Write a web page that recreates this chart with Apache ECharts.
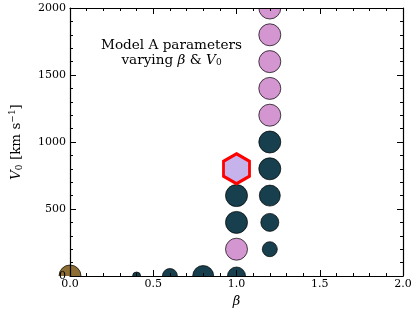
<!DOCTYPE html>
<html><head><meta charset="utf-8">
<script src="https://cdn.jsdelivr.net/npm/echarts@6/dist/echarts.min.js"></script>
<style>html,body{margin:0;padding:0;background:#fff}#c{width:415px;height:314px}</style>
</head><body><div id="c"></div>
<script>
// Data
const xTicks = [0.0, 0.5, 1.0, 1.5, 2.0];
const yTicks = [0, 500, 1000, 1500, 2000];

const brownBeta = [0.0];
const brownV0 = [0];
const brownWeight = [22];

const darkBeta = [0.4, 0.6, 0.8, 1.0, 1.0, 1.0, 1.2, 1.2, 1.2, 1.2, 1.2];
const darkV0 = [0, 0, 0, 0, 400, 600, 200, 400, 600, 800, 1000];
const darkWeight = [8, 15, 21, 18, 22, 22, 15, 18, 21, 22, 22];

const pinkBeta = [1.0, 1.2, 1.2, 1.2, 1.2, 1.2];
const pinkV0 = [200, 1200, 1400, 1600, 1800, 2000];
const pinkWeight = [22, 22, 22, 22, 22, 22];

const bestBeta = [1.0];
const bestV0 = [800];

function pts(xs, ys, ws) { return xs.map((x, i) => ws ? [x, ys[i], ws[i]] : [x, ys[i]]); }

const FONT = 'DejaVu Serif';
const GL = 57, GR = 12, GT = 8, GB = 38, W = 415, H = 314;
const chart = echarts.init(document.getElementById('c'), null, {renderer: 'canvas'});

function xAxisCfg(pos, labels) {
  return {
    type: 'value', position: pos, min: 0, max: 2, interval: 0.5, z: 5,
    axisLine: {show: true, onZero: false, lineStyle: {color: '#000', width: 1.2}},
    axisTick: {show: true, inside: true, length: 6, lineStyle: {color: '#000', width: 1}},
    minorTick: {show: true, splitNumber: 5, length: 3, lineStyle: {color: '#000', width: 1}},
    splitLine: {show: false},
    axisLabel: {show: labels, margin: 3, fontFamily: FONT, fontSize: 11, color: '#000',
      formatter: v => v.toFixed(1)},
    name: labels ? 'β' : '', nameLocation: 'middle', nameGap: 14,
    nameTextStyle: {fontFamily: FONT, fontSize: 13, fontStyle: 'italic', color: '#000'}
  };
}
function yAxisCfg(pos, labels) {
  return {
    type: 'value', position: pos, min: 0, max: 2000, interval: 500, z: 5,
    axisLine: {show: true, onZero: false, lineStyle: {color: '#000', width: 1.2}},
    axisTick: {show: true, inside: true, length: 6, lineStyle: {color: '#000', width: 1}},
    minorTick: {show: true, splitNumber: 5, length: 3, lineStyle: {color: '#000', width: 1}},
    splitLine: {show: false},
    axisLabel: {show: labels, margin: 4, fontFamily: FONT, fontSize: 11, color: '#000',
      formatter: v => String(v)},
    name: labels ? '{i|V}{s|0}{n| [km s}{p|−1}{n|]}' : '', nameLocation: 'middle', nameGap: 46,
    nameTextStyle: {
      fontFamily: FONT, fontSize: 13.5, color: '#000',
      rich: {
        i: {fontFamily: FONT, fontSize: 13.5, fontStyle: 'italic', lineHeight: 16},
        n: {fontFamily: FONT, fontSize: 13.5, lineHeight: 16},
        s: {fontFamily: FONT, fontSize: 9, lineHeight: 9, verticalAlign: 'bottom'},
        p: {fontFamily: FONT, fontSize: 9, lineHeight: 9, verticalAlign: 'top'}
      }
    }
  };
}

const border = {borderColor: '#000', borderWidth: 0.7, opacity: 1};
const white = {fill: '#fff'};

chart.setOption({
  animation: false,
  backgroundColor: '#fff',
  grid: {left: GL, right: GR, top: GT, bottom: GB, containLabel: false},
  xAxis: [xAxisCfg('bottom', true), xAxisCfg('top', false)],
  yAxis: [yAxisCfg('left', true), yAxisCfg('right', false)],
  series: [
    {type: 'scatter', data: pts(brownBeta, brownV0, brownWeight), symbolSize: d => d[2],
      itemStyle: Object.assign({color: '#8c6d33'}, border), z: 2},
    {type: 'scatter', data: pts(darkBeta, darkV0, darkWeight), symbolSize: d => d[2],
      itemStyle: Object.assign({color: '#173f4d'}, border), z: 2},
    {type: 'scatter', data: pts(pinkBeta, pinkV0, pinkWeight), symbolSize: d => d[2],
      itemStyle: Object.assign({color: '#d496d0'}, border), z: 2},
    {type: 'scatter', data: pts(bestBeta, bestV0),
      symbol: 'path://M0,-1 L0.866,-0.5 L0.866,0.5 L0,1 L-0.866,0.5 L-0.866,-0.5 Z',
      symbolSize: [26, 30],
      itemStyle: {color: '#c7b3ec', borderColor: '#ff0000', borderWidth: 3, opacity: 1}, z: 3}
  ],
  graphic: [
    // mask markers outside the plot frame (matplotlib clipping)
    {type: 'rect', z: 4, silent: true, shape: {x: 0, y: H - GB, width: W, height: GB}, style: white},
    {type: 'rect', z: 4, silent: true, shape: {x: 0, y: 0, width: GL, height: H}, style: white},
    {type: 'rect', z: 4, silent: true, shape: {x: 0, y: 0, width: W, height: GT}, style: white},
    {type: 'rect', z: 4, silent: true, shape: {x: W - GR, y: 0, width: GR, height: H}, style: white},
    {
      type: 'text', left: 101, top: 38, z: 10,
      style: {
        text: '{n|Model A parameters}\n{n|varying }{i|β}{n| & }{i|V}{s|0}',
        align: 'center', fill: '#000', font: '13.6px "DejaVu Serif"',
        rich: {
          n: {fontFamily: FONT, fontSize: 13.6, lineHeight: 15, align: 'center'},
          i: {fontFamily: FONT, fontSize: 13.6, fontStyle: 'italic', lineHeight: 15},
          s: {fontFamily: FONT, fontSize: 9, lineHeight: 9, verticalAlign: 'bottom'}
        }
      }
    }
  ]
});
</script></body></html>
